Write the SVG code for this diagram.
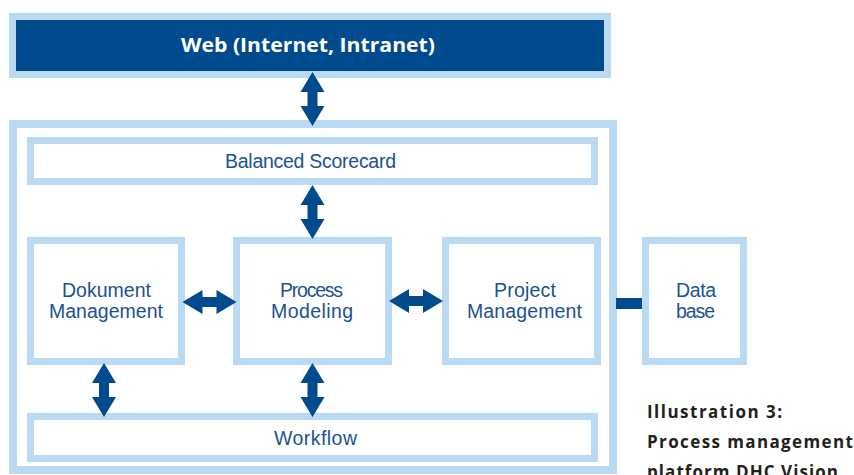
<svg xmlns="http://www.w3.org/2000/svg" xmlns:xlink="http://www.w3.org/1999/xlink" width="854" height="475" viewBox="0 0 854 475">
<style>
.box{fill:#ffffff;stroke:#b9daf2;stroke-width:7}
.lbl{font-family:"Liberation Sans","Open Sans",sans-serif;font-size:19.5px;fill:#1b5294;text-anchor:middle}
.arr{fill:#004a8e}
.cap{font-family:"Open Sans","DejaVu Sans",sans-serif;font-weight:bold;font-size:17px;fill:#231f20}
</style>
<defs>
<path id="darr" d="M0,-27 L12,-7 L5,-7 L5,7 L12,7 L0,27 L-12,7 L-5,7 L-5,-7 L-12,-7 Z"/>
</defs>
<rect width="854" height="475" fill="#ffffff"/>

<g id="web">
<rect x="12.5" y="16.5" width="595" height="58" fill="#004a8e" stroke="#b9daf2" stroke-width="7"/>
<text x="308" y="52" font-family="Open Sans,DejaVu Sans,sans-serif" font-weight="bold" font-size="19px" fill="#ffffff" text-anchor="middle" textLength="254" lengthAdjust="spacingAndGlyphs">Web (Internet, Intranet)</text>
</g>

<g id="platform">
<rect x="13" y="124" width="600" height="346" fill="#ffffff" stroke="#b9daf2" stroke-width="8"/>
</g>

<g id="scorecard">
<rect class="box" x="30.5" y="140.5" width="564" height="41"/>
<text class="lbl" x="310.5" y="168" textLength="171" lengthAdjust="spacing">Balanced Scorecard</text>
</g>

<g id="dokument">
<rect class="box" x="30.5" y="240.5" width="151" height="121"/>
<text class="lbl" x="106.5" y="297" textLength="89" lengthAdjust="spacing">Dokument</text>
<text class="lbl" x="106" y="318" textLength="114" lengthAdjust="spacing">Management</text>
</g>

<g id="process">
<rect class="box" x="236.5" y="240.5" width="152" height="121"/>
<text class="lbl" x="311.5" y="297" textLength="63" lengthAdjust="spacing">Process</text>
<text class="lbl" x="312" y="318" textLength="82" lengthAdjust="spacing">Modeling</text>
</g>

<g id="project">
<rect class="box" x="445.5" y="240.5" width="152" height="121"/>
<text class="lbl" x="525" y="297" textLength="62" lengthAdjust="spacing">Project</text>
<text class="lbl" x="524.5" y="318" textLength="115" lengthAdjust="spacing">Management</text>
</g>

<g id="database">
<rect class="box" x="645.5" y="240.5" width="98" height="121"/>
<text class="lbl" x="696" y="297" textLength="40" lengthAdjust="spacing">Data</text>
<text class="lbl" x="695.5" y="318" textLength="39" lengthAdjust="spacing">base</text>
</g>

<g id="workflow">
<rect class="box" x="30.5" y="416.5" width="564" height="42"/>
<text class="lbl" x="315.5" y="445" textLength="83" lengthAdjust="spacing">Workflow</text>
</g>

<g id="connectors">
<use href="#darr" xlink:href="#darr" class="arr" transform="translate(312.5,99)"/>
<use href="#darr" xlink:href="#darr" class="arr" transform="translate(312.5,212)"/>
<use href="#darr" xlink:href="#darr" class="arr" transform="translate(209.5,302) rotate(90)"/>
<use href="#darr" xlink:href="#darr" class="arr" transform="translate(416,301) rotate(90)"/>
<use href="#darr" xlink:href="#darr" class="arr" transform="translate(104,390)"/>
<use href="#darr" xlink:href="#darr" class="arr" transform="translate(312.5,390)"/>
<rect class="arr" x="616" y="298" width="26" height="11"/>
</g>

<g id="caption">
<text class="cap" x="647" y="418" textLength="135" lengthAdjust="spacing">Illustration 3:</text>
<text class="cap" x="647" y="448" textLength="206" lengthAdjust="spacing">Process management</text>
<text class="cap" x="647" y="478" textLength="191" lengthAdjust="spacing">platform DHC Vision</text>
</g>
</svg>
